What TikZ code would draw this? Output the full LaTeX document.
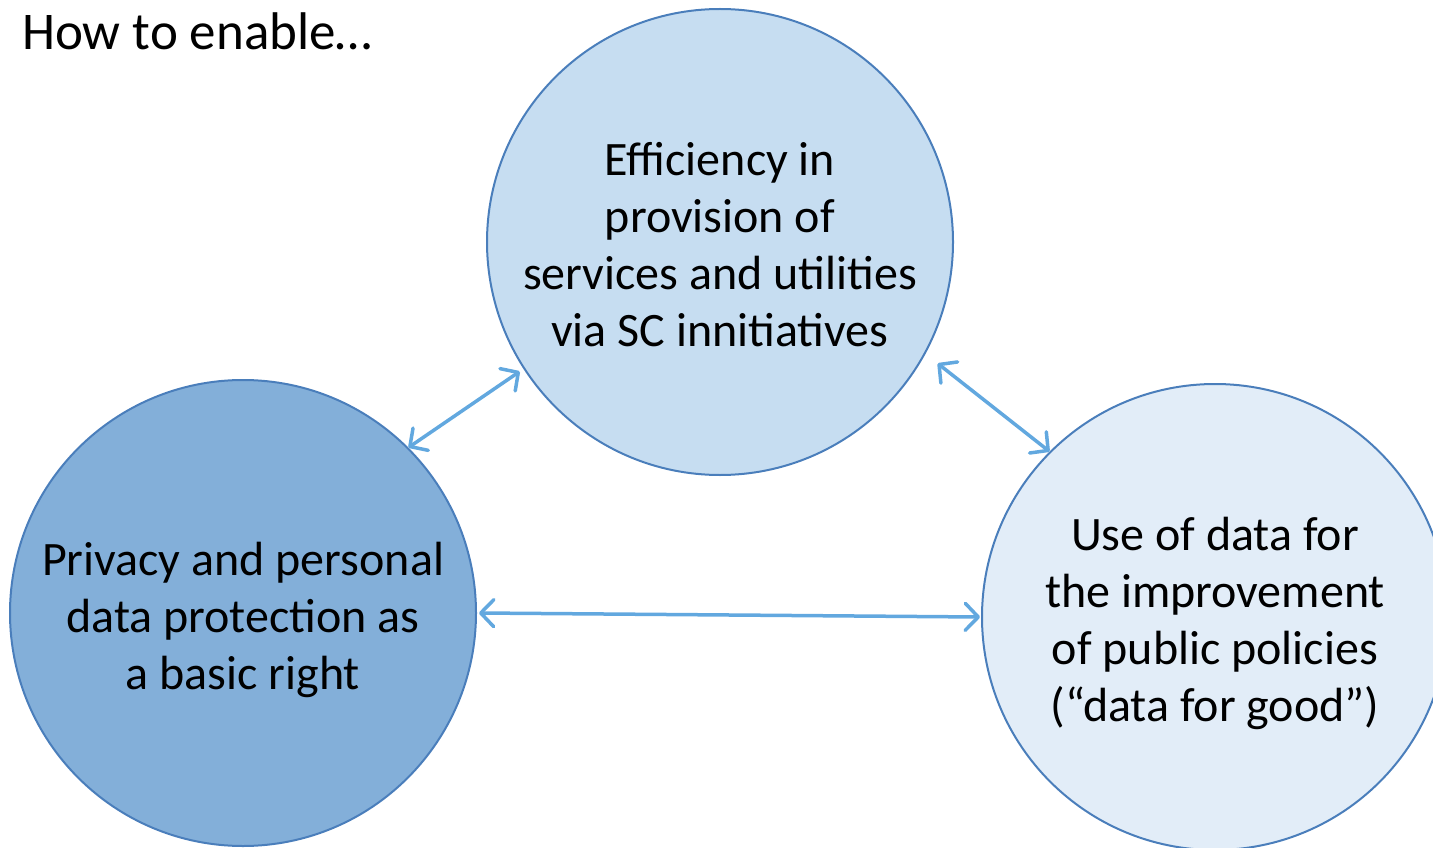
\documentclass[tikz,border=0pt]{standalone}
\usepackage{fontspec}
\setmainfont{Carlito}
\usetikzlibrary{arrows.meta}
\definecolor{topfill}{HTML}{C6DDF1}
\definecolor{leftfill}{HTML}{83AFD9}
\definecolor{rightfill}{HTML}{E2EDF8}
\definecolor{rim}{HTML}{4A7EBB}
\definecolor{arrowc}{HTML}{62A8DF}
\begin{document}
\begin{tikzpicture}[x=1pt,y=-1pt,
  bubble/.style={circle,draw=rim,line width=2pt,minimum size=466pt,inner sep=0pt},
  txt/.style={align=center,inner sep=0pt,font=\fontsize{48}{57}\selectfont},
  link/.style={draw=arrowc,line width=3.5pt,line cap=round,
    {Straight Barb[length=13pt,width=27pt,line width=3.5pt,round]}-{Straight Barb[length=13pt,width=27pt,line width=3.5pt,round]}}]
\useasboundingbox (0,0) rectangle (1433,848);
\clip (0,0) rectangle (1433,848);
\node[anchor=base west,font=\fontsize{53}{60}\selectfont,inner sep=0pt] (title) at (22,50) {How to enable…};
\node[bubble,fill=topfill] (top) at (720,242) {};
\node[bubble,fill=leftfill] (left) at (243,613) {};
\node[bubble,fill=rightfill] (right) at (1215,617) {};
\node[txt] (toptext) at ([yshift=-3]top.center) {Efficiency in\\provision of\\services and utilities\\via SC innitiatives};
\node[txt] (lefttext) at ([yshift=-7]left.center) {Privacy and personal\\data protection as\\a basic right};
\node[txt] (righttext) at ([yshift=-6]right.center) {Use of data for\\the improvement\\of public policies\\(“data for good”)};
\draw[link] (left.45) -- ([shift={(-4,2)}]top.213);
\draw[link] ([shift={(13,8)}]top.331) -- (right.135);
\draw[link] ([xshift=2]left.east) -- ([xshift=-1]right.west);
\end{tikzpicture}
\end{document}
